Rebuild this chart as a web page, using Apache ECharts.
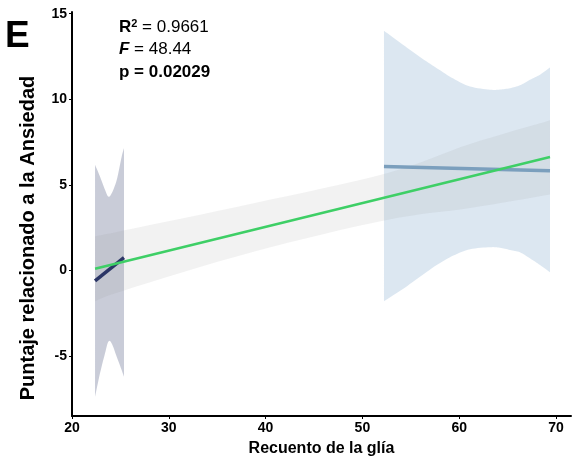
<!DOCTYPE html>
<html>
<head>
<meta charset="utf-8">
<script src="https://cdn.jsdelivr.net/npm/echarts@6/dist/echarts.min.js"></script>
<style>
  html, body { margin: 0; padding: 0; background: #fff; }
  #chart { width: 572px; height: 457px; }
</style>
</head>
<body>
<div id="chart"></div>
<script>
// Tick positions
const xTicks = [20, 30, 40, 50, 60, 70];
const yTicks = [-5, 0, 5, 10, 15];

// Pooled regression (green) with its confidence band (grey)
const pooledLine = [[22.38, 0.1], [69.38, 6.63]];
const pooledBandX = [22.38, 25.3, 38.76, 52.51, 61.12, 69.38];
const pooledBandLo = [-1.8, -1.18, 1.1, 2.95, 3.65, 4.44];
const pooledBandHi = [2.0, 2.33, 3.93, 5.68, 7.39, 8.77];

// Group A (navy): fit line and confidence band
const groupALine = [[22.38, -0.6], [25.37, 0.75]];
const groupABandX = [22.38, 22.89, 23.41, 23.75, 24.1, 24.62, 25.13, 25.37];
const groupABandLo = [-7.38, -6.01, -4.84, -4.16, -4.26, -5.04, -5.82, -6.21];
const groupABandHi = [6.17, 5.49, 4.71, 4.32, 4.51, 5.29, 6.65, 7.15];

// Group B (steel blue): fit line and confidence band
const groupBLine = [[52.23, 6.08], [69.38, 5.83]];
const groupBBandX = [52.23, 54.19, 55.95, 57.68, 59.39, 61.12, 63.18, 64.21, 65.25, 66.28, 67.31, 68.35, 69.38];
const groupBBandLo = [-1.79, -1.08, -0.36, 0.32, 0.87, 1.24, 1.36, 1.33, 1.2, 1.06, 0.71, 0.32, -0.11];
const groupBBandHi = [14.0, 13.19, 12.47, 11.82, 11.21, 10.75, 10.56, 10.57, 10.65, 10.82, 11.14, 11.44, 11.86];

function bandData(xs, lo, hi) {
  return xs.map((x, i) => [x, lo[i], hi[i]]);
}

// Catmull-Rom smoothing of an edge in screen space (drawing only)
function smoothEdge(pts, steps) {
  if (pts.length < 3) return pts.slice();
  const out = [];
  for (let i = 0; i < pts.length - 1; i++) {
    const p0 = pts[Math.max(i - 1, 0)], p1 = pts[i], p2 = pts[i + 1], p3 = pts[Math.min(i + 2, pts.length - 1)];
    for (let s = 0; s < steps; s++) {
      const t = s / steps, t2 = t * t, t3 = t2 * t;
      const f = (a, b, c, d) => 0.5 * (2 * b + (-a + c) * t + (2 * a - 5 * b + 4 * c - d) * t2 + (-a + 3 * b - 3 * c + d) * t3);
      out.push([f(p0[0], p1[0], p2[0], p3[0]), f(p0[1], p1[1], p2[1], p3[1])]);
    }
  }
  out.push(pts[pts.length - 1]);
  return out;
}

// Filled band: upper edge left→right, lower edge right→left
function bandSeries(xs, lo, hi, fill, z) {
  const data = bandData(xs, lo, hi);
  return {
    type: 'custom',
    z: z,
    silent: true,
    data: data,
    encode: { x: 0, y: [1, 2] },
    renderItem: function (params, api) {
      if (params.dataIndex !== 0) return null;
      const upper = smoothEdge(data.map(d => api.coord([d[0], d[2]])), 8);
      const lower = smoothEdge(data.map(d => api.coord([d[0], d[1]])), 8).reverse();
      return { type: 'polygon', shape: { points: upper.concat(lower) }, style: { fill: fill } };
    }
  };
}

function lineSeries(data, color, width, z) {
  return {
    type: 'line', data: data, z: z, showSymbol: false, silent: true,
    lineStyle: { color: color, width: width, cap: 'butt' }
  };
}

const chart = echarts.init(document.getElementById('chart'), null, { renderer: 'canvas' });
const FONT = 'Liberation Sans, Arial, sans-serif';

chart.setOption({
  animation: false,
  backgroundColor: '#ffffff',
  grid: { left: 72, right: 1, top: 12, bottom: 41, outerBoundsMode: 'none', containLabel: false },
  xAxis: {
    type: 'value', min: 20, max: 71.55,
    name: 'Recuento de la glía', nameLocation: 'middle', nameGap: 25,
    nameTextStyle: { fontFamily: FONT, fontWeight: 'bold', fontSize: 16, color: '#000' },
    splitLine: { show: false },
    axisLine: { onZero: false, lineStyle: { color: '#000', width: 2 } },
    axisTick: { show: true, length: 3, lineStyle: { color: '#000', width: 1 }, customValues: xTicks },
    axisLabel: { customValues: xTicks, fontFamily: FONT, fontWeight: 'bold', fontSize: 14, color: '#000', margin: 5 }
  },
  yAxis: {
    type: 'value', min: -8.5, max: 15.1,
    splitLine: { show: false },
    axisLine: { show: true, onZero: false, lineStyle: { color: '#000', width: 2 } },
    axisTick: { show: true, length: 3, lineStyle: { color: '#000', width: 1 }, customValues: yTicks },
    axisLabel: { customValues: yTicks, fontFamily: FONT, fontWeight: 'bold', fontSize: 14, color: '#000', margin: 5 }
  },
  graphic: [
    { type: 'text', x: 28, y: 238, rotation: Math.PI / 2,
      style: { text: 'Puntaje relacionado a la Ansiedad', font: 'bold 20px ' + FONT, fill: '#000',
               align: 'center', verticalAlign: 'middle' } },
    { type: 'text', left: 5, top: 18, style: { text: 'E', font: 'bold 37px ' + FONT, fill: '#000' } },
    { type: 'text', left: 119, top: 18, style: {
        text: '{b|R}{s|2}{n| = 0.9661}',
        rich: {
          b: { fontFamily: FONT, fontWeight: 'bold', fontSize: 17, fill: '#000' },
          s: { fontFamily: FONT, fontWeight: 'bold', fontSize: 11, fill: '#000', verticalAlign: 'top', padding: [0, 0, 7, 0] },
          n: { fontFamily: FONT, fontSize: 17, fill: '#000' }
        }
      } },
    { type: 'text', left: 119, top: 41, style: {
        text: '{f|F}{n| = 48.44}',
        rich: {
          f: { fontFamily: FONT, fontWeight: 'bold', fontStyle: 'italic', fontSize: 17, fill: '#000' },
          n: { fontFamily: FONT, fontSize: 17, fill: '#000' }
        }
      } },
    { type: 'text', left: 119, top: 64, style: { text: 'p = 0.02029', font: 'bold 17px ' + FONT, fill: '#000' } }
  ],
  series: [
    bandSeries(groupABandX, groupABandLo, groupABandHi, 'rgba(40,50,100,0.25)', 1),
    bandSeries(groupBBandX, groupBBandLo, groupBBandHi, 'rgba(70,130,180,0.19)', 1),
    bandSeries(pooledBandX, pooledBandLo, pooledBandHi, 'rgba(150,150,150,0.12)', 2),
    lineSeries(groupALine, '#2b3566', 3.5, 5),
    lineSeries(groupBLine, '#7b9fbd', 3.5, 5),
    lineSeries(pooledLine, '#3ecf66', 2.5, 6)
  ]
});
</script>
</body>
</html>
